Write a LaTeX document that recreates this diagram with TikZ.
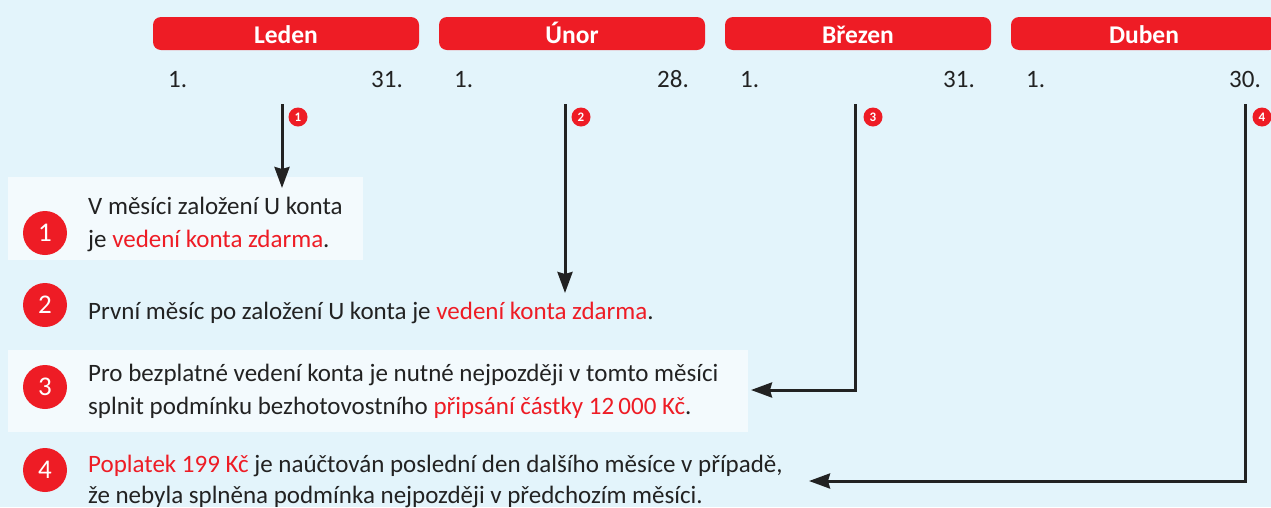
\documentclass[tikz,border=0pt]{standalone}
\usepackage{fontspec}
\setmainfont{Carlito}
\usetikzlibrary{arrows.meta}
\definecolor{bg}{HTML}{E3F4FB}
\definecolor{boxbg}{HTML}{F3FAFD}
\definecolor{kbred}{HTML}{EE1C25}
\definecolor{ink}{HTML}{222222}
\tikzset{
  monthbar/.style={fill=kbred, rounded corners=8pt},
  monthlbl/.style={text=white, font=\fontsize{25.5}{25.5}\selectfont\bfseries, anchor=base},
  datelbl/.style={text=ink, font=\fontsize{25}{25}\selectfont},
  badge/.style={circle, fill=kbred, inner sep=0pt, minimum size=19pt, text=white, font=\fontsize{13}{13}\selectfont\bfseries},
  bignum/.style={circle, fill=kbred, inner sep=0pt, minimum size=44pt, text=white, font=\fontsize{27}{27}\selectfont},
  body/.style={text=ink, font=\fontsize{25}{25}\selectfont, anchor=base west, inner sep=0pt},
  conn/.style={line width=3pt, draw=ink, -{Stealth[length=21pt,width=15pt,inset=2pt]}}
}
\newcommand{\red}[1]{\textcolor{kbred}{#1}}
\begin{document}
\begin{tikzpicture}[x=1pt,y=-1pt]
\fill[bg] (0,0) rectangle (1271,507);
\useasboundingbox (0,0) rectangle (1271,507);
% month bars
\foreach \i/\m/\d in {0/Leden/31., 1/Únor/28., 2/Březen/31., 3/Duben/30.}{
  \fill[monthbar] (153+286*\i,17) rectangle (419+286*\i,50);
  \node[monthlbl] (m\i) at (286+286*\i,43) {\m};
  \node[datelbl, anchor=base west, inner sep=0pt] (ds\i) at (168+286*\i,87) {1.};
  \node[datelbl, anchor=base east, inner sep=0pt] (de\i) at (403+286*\i,87) {\d};
}
% text boxes
\fill[boxbg] (8,177) rectangle (363,260);
\fill[boxbg] (8,350) rectangle (748,432);
% big numbers
\node[bignum] (n1) at (45,233) {1};
\node[bignum] (n2) at (45,305) {2};
\node[bignum] (n3) at (45,387) {3};
\node[bignum] (n4) at (45,470) {4};
% texts
\node[body] (t1a) at (88,214) {V měsíci založení U konta};
\node[body] (t1b) at (88,247) {je \red{vedení konta zdarma}.};
\node[body] (t2) at (88,319) {První měsíc po založení U konta je \red{vedení konta zdarma}.};
\node[body] (t3a) at (88,381) {Pro bezplatné vedení konta je nutné nejpozději v tomto měsíci};
\node[body] (t3b) at (88,414) {splnit podmínku bezhotovostního \red{připsání částky 12\,000 Kč}.};
\node[body] (t4a) at (88,472) {\red{Poplatek 199 Kč} je naúčtován poslední den dalšího měsíce v případě,};
\node[body] (t4b) at (88,503) {že nebyla splněna podmínka nejpozději v předchozím měsíci.};
% badges
\node[badge] (b1) at (298,117) {1};
\node[badge] (b2) at (581,117) {2};
\node[badge] (b3) at (873,117) {3};
\node[badge] (b4) at (1262,117) {4};
% connector coordinates
\coordinate (s1) at (282,104);
\coordinate (e1) at (282,188);
\coordinate (s2) at (565,104);
\coordinate (e2) at (565,293);
\coordinate (s3) at (855,104);
\coordinate (c3) at (855,390);
\coordinate (e3) at (751,390);
\coordinate (s4) at (1245,104);
\coordinate (c4) at (1245,481);
\coordinate (e4) at (809,481);
\draw[conn] (s1) -- (e1);
\draw[conn] (s2) -- (e2);
\draw[conn] (s3) -- (c3) -- (e3);
\draw[conn] (s4) -- (c4) -- (e4);
\end{tikzpicture}
\end{document}
